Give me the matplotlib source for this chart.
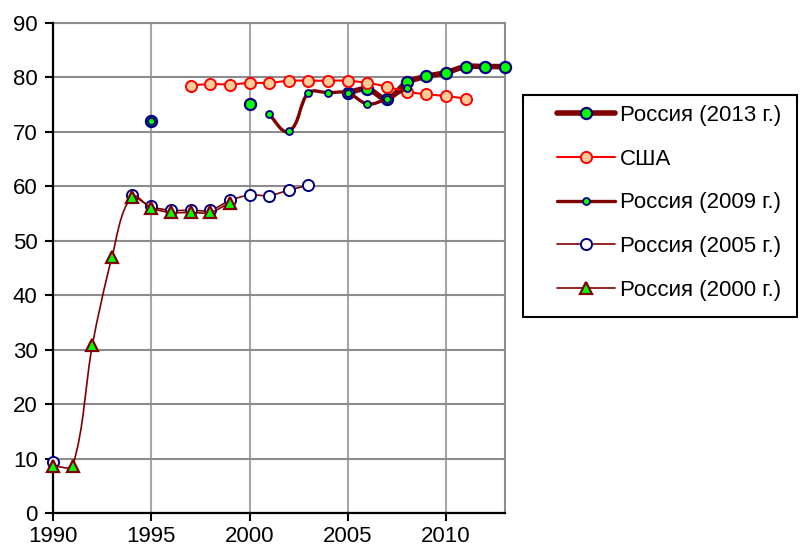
import numpy as np
import matplotlib
matplotlib.use("Agg")
import matplotlib.pyplot as plt
from matplotlib.path import Path
from matplotlib.patches import PathPatch, Rectangle
from matplotlib.lines import Line2D

plt.rcParams['font.family'] = ['Liberation Sans', 'DejaVu Sans']

nan = np.nan
years = np.arange(1990, 2014)

russia_2013 = [nan, nan, nan, nan, nan, 72.0, nan, nan, nan, nan,
               75.1, nan, nan, nan, nan, 77.2, 77.9, 76.1, 79.1, 80.2,
               80.9, 82.0, 82.0, 82.0]
usa = [nan, nan, nan, nan, nan, nan, nan, 78.5, 78.8, 78.7,
       79.0, 79.0, 79.4, 79.4, 79.4, 79.4, 79.0, 78.3, 77.4, 76.9,
       76.6, 76.1, nan, nan]
russia_2009 = [nan, nan, nan, nan, nan, 72.0, nan, nan, nan, nan,
               nan, 73.2, 70.1, 77.2, 77.2, 77.2, 75.1, 76.1, 78.0, nan,
               nan, nan, nan, nan]
russia_2005 = [9.3, nan, nan, nan, 58.5, 56.3, 55.6, 55.6, 55.6, 57.4,
               58.4, 58.3, 59.3, 60.2, nan, nan, nan, nan, nan, nan,
               nan, nan, nan, nan]
russia_2000 = [8.7, 8.7, 30.8, 47.0, 58.1, 56.0, 55.2, 55.2, 55.2, 57.0,
               nan, nan, nan, nan, nan, nan, nan, nan, nan, nan,
               nan, nan, nan, nan]

labels = ['Россия (2013 г.)', 'США', 'Россия (2009 г.)',
          'Россия (2005 г.)', 'Россия (2000 г.)']

DARK = '#800000'
NAVY = '#000080'
GREEN = '#00ff00'

# px per unit, used only to make the smoothing look like Excel's
SX, SY = 19.6, 5.43


def smooth_path(x, y, k=0.3):
    p = np.column_stack([np.asarray(x, float) * SX, np.asarray(y, float) * SY])
    n = len(p)
    d = np.zeros_like(p)
    for i in range(n):
        a = p[max(i - 1, 0)]
        b = p[min(i + 1, n - 1)]
        v = b - a
        d[i] = v / np.hypot(*v)
    verts = [p[0]]
    codes = [Path.MOVETO]
    for i in range(n - 1):
        L = np.hypot(*(p[i + 1] - p[i]))
        verts += [p[i] + d[i] * L * k, p[i + 1] - d[i + 1] * L * k, p[i + 1]]
        codes += [Path.CURVE4] * 3
    verts = np.array(verts) / [SX, SY]
    return Path(verts, codes)


def draw_series(ax, vals, line_kw, mark_kw, z):
    vals = np.asarray(vals, float)
    ok = ~np.isnan(vals)
    # split into runs without gaps
    idx = np.where(ok)[0]
    runs = np.split(idx, np.where(np.diff(idx) != 1)[0] + 1)
    for r in runs:
        if len(r) > 1:
            ax.add_patch(PathPatch(smooth_path(years[r], vals[r]), fill=False,
                                   capstyle='round', joinstyle='round',
                                   zorder=z, **line_kw))
    ax.plot(years[ok], vals[ok], linestyle='none', zorder=z + 0.5,
            clip_on=False, **mark_kw)


styles = [
    (russia_2013, dict(edgecolor=DARK, lw=4.0),
     dict(marker='o', ms=8, mfc=GREEN, mec=NAVY, mew=1.6)),
    (usa, dict(edgecolor='#ff0000', lw=1.5),
     dict(marker='o', ms=8, mfc='#ffcc99', mec='#ff0000', mew=1.4)),
    (russia_2009, dict(edgecolor=DARK, lw=2.4),
     dict(marker='o', ms=5, mfc=GREEN, mec=NAVY, mew=1.3)),
    (russia_2005, dict(edgecolor=DARK, lw=1.2),
     dict(marker='o', ms=8, mfc='white', mec=NAVY, mew=1.4)),
    (russia_2000, dict(edgecolor=DARK, lw=1.2),
     dict(marker='^', ms=9, mfc=GREEN, mec=DARK, mew=1.6)),
]

fig = plt.figure(figsize=(8.02, 5.48), dpi=100)
ax = fig.add_axes([53 / 802, 1 - 513 / 548, 452 / 802, 490 / 548])

handles = []
for i, (vals, lk, mk) in enumerate(styles):
    draw_series(ax, vals, lk, mk, 3 + i)
    handles.append(Line2D([], [], color=lk['edgecolor'], lw=lk['lw'],
                          solid_capstyle='round', **mk))

ax.set_xlim(1990, 2013)
ax.set_ylim(0, 90)
ax.set_xticks(np.arange(1990, 2011, 5))
ax.set_yticks(np.arange(0, 91, 10))
ax.tick_params(labelsize=16, length=6, width=1.5, colors='black')
ax.tick_params(axis='y', pad=5)
ax.tick_params(axis='x', pad=3)

ax.yaxis.grid(True, color='#8c8c8c', lw=1.5)
ax.xaxis.grid(True, color='#a6a6a6', lw=1.5)
ax.set_axisbelow(True)
for s in ['left', 'bottom']:
    ax.spines[s].set_color('black')
    ax.spines[s].set_linewidth(1.6)
    ax.spines[s].set_zorder(2.6)
for s in ['top', 'right']:
    ax.spines[s].set_color('#8c8c8c')
    ax.spines[s].set_linewidth(1.5)

fig.legend(handles, labels, loc='upper left',
           bbox_to_anchor=(557 / 802, 1 - 105 / 548),
           frameon=False, fontsize=16, handlelength=2.6,
           handletextpad=0.25, labelspacing=1.02, borderpad=0,
           borderaxespad=0)
fig.patches.append(Rectangle((523 / 802, 1 - 317 / 548), 274 / 802, 222 / 548,
                             transform=fig.transFigure, fill=False,
                             edgecolor='black', lw=1.5))

fig.savefig('out.png', dpi=100)
